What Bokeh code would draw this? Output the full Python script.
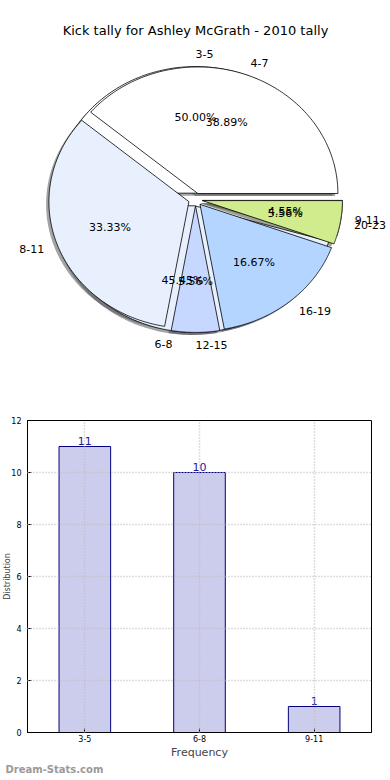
import numpy as np
from bokeh.plotting import figure
from bokeh.models import ColumnDataSource, Range1d, Label, FactorRange, SingleIntervalTicker, Title
from bokeh.layouts import column
from bokeh.embed import file_html
from bokeh.resources import INLINE
from bokeh.core.properties import value

# ---------------- data ----------------
title_text = "Kick tally for Ashley McGrath - 2010 tally"
cats_a = ["3-5", "6-8", "9-11"]
vals_a = [11, 10, 1]
cats_b = ["4-7", "8-11", "12-15", "16-19", "20-23"]
vals_b = [7, 6, 1, 3, 1]
slice_colors = ["#ffffff", "#e8f0fe", "#c6d8ff", "#b4d5ff", "#d0ec8c"]

bar_cats = ["3-5", "6-8", "9-11"]
bar_vals = [11, 10, 1]
bar_ylabel = "Distribution"
bar_xlabel = "Frequency"
watermark = "Dream-Stats.com"

FONT = "DejaVu Sans"
EXPLODE = 0.05


def pie_geometry(vals, explode=EXPLODE, n=140):
    v = np.asarray(vals, dtype=float)
    frac = v / v.sum()
    t2 = np.cumsum(frac) * 2 * np.pi
    t1 = t2 - frac * 2 * np.pi
    mid = (t1 + t2) / 2
    xs, ys = [], []
    for a, b, m in zip(t1, t2, mid):
        cx, cy = explode * np.cos(m), explode * np.sin(m)
        th = np.linspace(a, b, n)
        xs.append(np.concatenate([[cx], cx + np.cos(th)]).tolist())
        ys.append(np.concatenate([[cy], cy + np.sin(th)]).tolist())
    return xs, ys, mid, frac


def darker(hexcol, f=0.3):
    h = hexcol.lstrip("#")
    r, g, b = (int(h[i:i + 2], 16) for i in (0, 2, 4))
    return "#%02x%02x%02x" % (int(r * f), int(g * f), int(b * f))


# page x of the bar chart's frame left edge
L = 26

# ---------------- pie figure ----------------
W = 388
H1 = 394
RX, RY = 140.0, 126.6   # px per unit
CX, CY = 195.0, 199.0   # centre in frame px (from top-left)

p = figure(frame_width=W, frame_height=H1, output_backend="svg",
           toolbar_location=None, title=None,
           x_range=Range1d(-CX / RX, (W - CX) / RX),
           y_range=Range1d(-(H1 - CY) / RY, CY / RY),
           x_axis_location=None, y_axis_location=None,
           min_border=0, min_border_left=0, min_border_right=0,
           min_border_top=0, min_border_bottom=0)
p.grid.visible = False
p.outline_line_color = None
p.background_fill_color = "white"

pies = []
for cats, vals in ((cats_a, vals_a), (cats_b, vals_b)):
    xs, ys, mid, frac = pie_geometry(vals)
    cols = slice_colors[:len(vals)]
    pies.append((cats, vals, xs, ys, mid, frac, cols))

# shadows first (below every wedge)
for cats, vals, xs, ys, mid, frac, cols in pies:
    sxs = [[x - 0.02 for x in poly] for poly in xs]
    sys_ = [[y - 0.02 for y in poly] for poly in ys]
    p.patches(sxs, sys_, fill_color=[darker(c) for c in cols], fill_alpha=0.5,
              line_color=None)

for cats, vals, xs, ys, mid, frac, cols in pies:
    p.patches(xs, ys, fill_color=cols, line_color="black", line_width=0.8)

for cats, vals, xs, ys, mid, frac, cols in pies:
    c, s = np.cos(mid), np.sin(mid)
    pct_src = ColumnDataSource(dict(
        x=((EXPLODE + 0.6) * c).tolist(), y=((EXPLODE + 0.6) * s).tolist(),
        t=["%.2f%%" % (f * 100) for f in frac]))
    p.text(x="x", y="y", text="t", source=pct_src, text_align="center",
           text_baseline="middle", text_font=value(FONT), text_font_size="11px",
           text_color="black")
    lab_src = ColumnDataSource(dict(
        x=((EXPLODE + 1.1) * c).tolist(), y=((EXPLODE + 1.1) * s).tolist(),
        t=list(cats), a=["left" if cc > -1e-9 else "right" for cc in c]))
    p.text(x="x", y="y", text="t", source=lab_src, text_align="a",
           text_baseline="middle", text_font=value(FONT), text_font_size="11px",
           text_color="black")

p.add_layout(Label(x=0, y=(CY - 30) / RY, text=title_text, text_align="center",
                   text_baseline="middle", text_font=FONT, text_font_size="13px",
                   text_color="black"))

# ---------------- bar figure ----------------
FW, FH = 370 - L, 312
b = figure(frame_width=FW, frame_height=FH, output_backend="svg",
           toolbar_location=None, title=None,
           x_range=FactorRange(factors=bar_cats, range_padding=0),
           y_range=Range1d(0, 12),
           min_border_left=0, min_border_right=12, min_border_top=26,
           min_border_bottom=0)
b.outline_line_color = "black"
b.outline_line_width = 1
b.outline_line_alpha = 1

b.vbar(x=bar_cats, top=bar_vals, width=0.45, fill_color="#ccccec",
       line_color="#000080", line_width=1)
b.text(x=bar_cats, y=bar_vals, text=[str(v) for v in bar_vals],
       text_align="center", text_baseline="bottom", y_offset=-2,
       text_font=value(FONT), text_font_size="11px", text_color="#1a1a9a")

for g in (b.xgrid, b.ygrid):
    g.grid_line_color = "#bdbdbd"
    g.grid_line_dash = "1 2"
    g.grid_line_width = 1.5
    g.level = "annotation"

b.yaxis.ticker = SingleIntervalTicker(interval=2)
for ax in (b.xaxis, b.yaxis):
    ax.major_tick_in = 4
    ax.major_tick_out = 0
    ax.minor_tick_line_color = None
    ax.major_tick_line_color = "black"
    ax.axis_line_color = "black"
    ax.major_label_text_font = FONT
    ax.major_label_text_font_size = "8px"
    ax.major_label_text_color = "black"
    ax.major_label_standoff = 2

b.xaxis.axis_label = bar_xlabel
b.xaxis.axis_label_text_font = FONT
b.xaxis.axis_label_text_font_size = "11px"
b.xaxis.axis_label_text_font_style = "normal"
b.xaxis.axis_label_standoff = 1

b.yaxis.axis_label = bar_ylabel
b.yaxis.axis_label_text_font = FONT
b.yaxis.axis_label_text_font_size = "8px"
b.yaxis.axis_label_text_font_style = "normal"
b.yaxis.axis_label_standoff = -4

b.add_layout(Title(text=watermark, align="left", text_font=FONT,
                   text_font_size="10px", text_font_style="bold",
                   text_color="#9a9a9a", standoff=0, offset=-(L - 4)), "below")

# nest each figure in its own column so their frames are not aligned
layout = column(column(p), column(b), spacing=0)
open("out.html", "w").write(file_html(layout, INLINE))
